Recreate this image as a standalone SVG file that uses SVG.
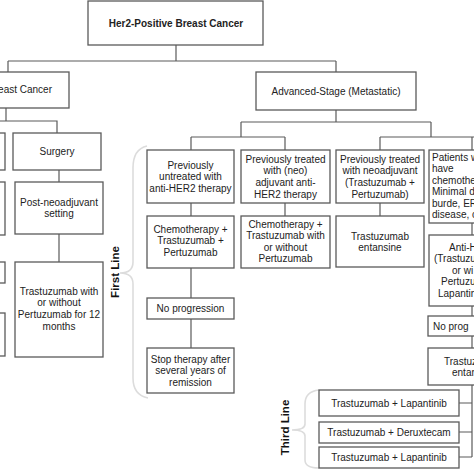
<svg xmlns="http://www.w3.org/2000/svg" width="474" height="474" viewBox="0 0 474 474">
<style>
.box{fill:#fff;stroke:#5a5a5a;stroke-width:1.3}
.t{font-family:"Liberation Sans",Arial,sans-serif;font-size:10px;fill:#222;text-anchor:middle}
.l{text-anchor:start}
.b{font-weight:bold}
.lbl{font-family:"Liberation Sans",Arial,sans-serif;font-size:11.5px;font-weight:bold;fill:#111;text-anchor:middle}
.con{fill:none;stroke:#5a5a5a;stroke-width:1.2}
.brace{fill:none;stroke:#dcdcdc;stroke-width:1.6}
</style>
<rect width="474" height="474" fill="#fff"/>
<g id="braces">
<path class="brace" d="M147,146 C138,148 133,156 133,168 L133,262 Q133,273 120,273 Q133,273 133,284 L133,378 C133,390 138,396 148,398"/>
<path class="brace" d="M319,390 C310,391 305,396 305,404 L305,424 Q305,430 292,430 Q305,430 305,436 L305,460 C305,465 310,468 319,468"/>
</g>
<g id="connectors">
<path class="con" d="M176,45 V61 M8,61 H336 M8,61 V72 M336,61 V72"/>
<path class="con" d="M6,108 V121 M0,121 H57 V133 M59,170 V182 M59,234 V262"/>
<path class="con" d="M336,110 V122 M241,122 H431 M241,122 V137 M191,137 H285 M191,137 V150 M285,137 V150 M431,122 V137 M380,137 H474 M380,137 V150 M472,137 V150"/>
<path class="con" d="M191,203 V216 M285,203 V216 M380,203 V216 M472,223 V235 M191,268 V298 M191,319 V348"/>
<path class="con" d="M472,306 V316 M472,336 V348 M472,385 V457 M459,403 H472 M459,432 H472 M459,457 H472"/>
</g>
<g id="n-root"><rect class="box" x="88" y="1" width="175" height="44"/><text class="t b" x="176" y="26.5">Her2-Positive Breast Cancer</text></g>
<g id="n-early"><rect class="box" x="-53" y="72" width="122" height="36"/><text class="t" x="52" y="92.5" style="text-anchor:end">east Cancer</text></g>
<g id="n-adv"><rect class="box" x="256" y="72" width="160" height="38"/><text class="t" x="336" y="94.5">Advanced-Stage (Metastatic)</text></g>
<g id="n-left1"><rect class="box" x="-40" y="133" width="45" height="37"/></g>
<g id="n-left2"><rect class="box" x="-40" y="182" width="45" height="53"/></g>
<g id="n-left3"><rect class="box" x="-40" y="262" width="45" height="21"/></g>
<g id="n-left4"><rect class="box" x="-40" y="313" width="45" height="43"/></g>
<g id="n-surgery"><rect class="box" x="13" y="133" width="88" height="37"/><text class="t" x="57" y="155">Surgery</text></g>
<g id="n-post"><rect class="box" x="15" y="182" width="88" height="52"/><text class="t" x="59" y="205.7">Post-neoadjuvant</text><text class="t" x="59" y="217.3">setting</text></g>
<g id="n-tras12"><rect class="box" x="15" y="262" width="88" height="95"/><text class="t" x="59" y="294.5">Trastuzumab with</text><text class="t" x="59" y="306.2">or without</text><text class="t" x="59" y="317.8">Pertuzumab for 12</text><text class="t" x="59" y="329.5">months</text></g>
<g id="n-c1a"><rect class="box" x="147" y="150" width="87" height="53"/><text class="t" x="190.5" y="168.5">Previously</text><text class="t" x="190.5" y="180">untreated with</text><text class="t" x="190.5" y="191.5">anti-HER2 therapy</text></g>
<g id="n-c2a"><rect class="box" x="241" y="150" width="89" height="53"/><text class="t" x="285.5" y="162.5">Previously treated</text><text class="t" x="285.5" y="174.2">with (neo)</text><text class="t" x="285.5" y="185.8">adjuvant anti-</text><text class="t" x="285.5" y="197.5">HER2 therapy</text></g>
<g id="n-c3a"><rect class="box" x="336" y="150" width="88" height="53"/><text class="t" x="380" y="162.5">Previously treated</text><text class="t" x="380" y="174.2">with neoadjuvant</text><text class="t" x="380" y="185.8">(Trastuzumab +</text><text class="t" x="380" y="197.5">Pertuzumab)</text></g>
<g id="n-c4a"><rect class="box" x="429" y="150" width="90" height="73"/><text class="t l" x="432" y="160.5">Patients w</text><text class="t l" x="432" y="172">have</text><text class="t l" x="432" y="183.6">chemothe</text><text class="t l" x="432" y="195.2">Minimal d</text><text class="t l" x="432" y="206.8">burde, ER</text><text class="t l" x="432" y="218.4">disease, c</text></g>
<g id="n-c1b"><rect class="box" x="147" y="216" width="87" height="52"/><text class="t" x="190.5" y="232.5">Chemotherapy +</text><text class="t" x="190.5" y="244.2">Trastuzumab +</text><text class="t" x="190.5" y="255.8">Pertuzumab</text></g>
<g id="n-c2b"><rect class="box" x="241" y="216" width="89" height="52"/><text class="t" x="285.5" y="227.5">Chemotherapy +</text><text class="t" x="285.5" y="239.2">Trastuzumab with</text><text class="t" x="285.5" y="250.8">or without</text><text class="t" x="285.5" y="262.4">Pertuzumab</text></g>
<g id="n-c3b"><rect class="box" x="336" y="216" width="88" height="51"/><text class="t" x="380" y="239.5">Trastuzumab</text><text class="t" x="380" y="251">entansine</text></g>
<g id="n-c4b"><rect class="box" x="429" y="235" width="90" height="71"/><text class="t l" x="449" y="250.5">Anti-H</text><text class="t l" x="434" y="262">(Trastuzu</text><text class="t l" x="452" y="273.6">or wi</text><text class="t l" x="441" y="285.2">Pertuzu</text><text class="t l" x="438" y="296.8">Lapantin</text></g>
<g id="n-c1c"><rect class="box" x="147" y="298" width="87" height="21"/><text class="t" x="190.5" y="311.5">No progression</text></g>
<g id="n-c1d"><rect class="box" x="147" y="348" width="87" height="45"/><text class="t" x="190.5" y="362.5">Stop therapy after</text><text class="t" x="190.5" y="374.2">several years of</text><text class="t" x="190.5" y="385.8">remission</text></g>
<g id="n-c4c"><rect class="box" x="428" y="316" width="90" height="20"/><text class="t l" x="433" y="329.5">No prog</text></g>
<g id="n-c4d"><rect class="box" x="428" y="348" width="90" height="37"/><text class="t l" x="444" y="364.5">Trastuz</text><text class="t l" x="452" y="376">entan</text></g>
<g id="n-t1"><rect class="box" x="319" y="390" width="140" height="26"/><text class="t" x="389" y="406.5">Trastuzumab + Lapantinib</text></g>
<g id="n-t2"><rect class="box" x="319" y="422" width="140" height="21"/><text class="t" x="389" y="436">Trastuzumab + Deruxtecam</text></g>
<g id="n-t3"><rect class="box" x="319" y="447" width="140" height="21"/><text class="t" x="389" y="461">Trastuzumab + Lapantinib</text></g>
<g id="labels">
<text class="lbl" transform="translate(118.5,272) rotate(-90)">First Line</text>
<text class="lbl" transform="translate(289,427.5) rotate(-90)">Third Line</text>
</g>
</svg>
